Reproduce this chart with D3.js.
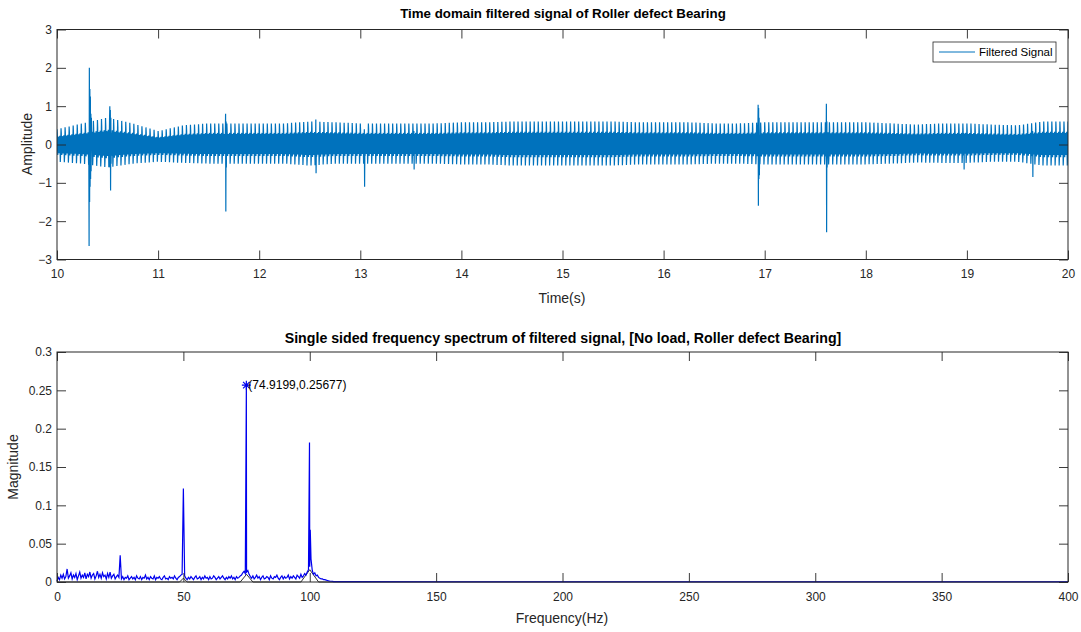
<!DOCTYPE html>
<html>
<head>
<meta charset="utf-8">
<script src="https://cdn.jsdelivr.net/npm/d3@7"></script>
<style>
  html, body { margin: 0; padding: 0; background: #fff; }
  svg { display: block; font-family: "Liberation Sans", Arial, Helvetica, sans-serif; }
</style>
</head>
<body>
<svg id="chart" width="1081" height="632"></svg>
<script>
// ---------------- Time-domain signal ----------------
// Repetition rate of the waveform (Hz) and the shape of one period (normalised, 16 samples)
const cycleRate = 25;
const cycleShape = [1.0, 0.7, -0.2, -0.6, -0.35, 0.45, 0.5, -0.1, -0.5, -0.3, 0.4, 0.55, -0.2, -1.0, -0.7, 0.3];

// Envelope of the filtered signal, every 0.25 s from 10 s to 20 s
const envTime = [10, 10.25, 10.5, 10.75, 11, 11.25, 11.5, 11.75, 12, 12.25, 12.5, 12.75, 13, 13.25, 13.5, 13.75,
  14, 14.25, 14.5, 14.75, 15, 15.25, 15.5, 15.75, 16, 16.25, 16.5, 16.75, 17, 17.25, 17.5, 17.75, 18, 18.25,
  18.5, 18.75, 19, 19.25, 19.5, 19.75, 20];
const envUpper = [0.4, 0.55, 0.7, 0.55, 0.35, 0.5, 0.55, 0.55, 0.55, 0.55, 0.6, 0.58, 0.55, 0.55, 0.55, 0.55,
  0.58, 0.58, 0.6, 0.6, 0.6, 0.6, 0.6, 0.58, 0.58, 0.58, 0.55, 0.55, 0.58, 0.58, 0.58, 0.58, 0.58, 0.55,
  0.52, 0.55, 0.55, 0.52, 0.5, 0.6, 0.6];
const envLower = [-0.45, -0.5, -0.6, -0.5, -0.45, -0.48, -0.5, -0.5, -0.5, -0.5, -0.55, -0.5, -0.5, -0.5, -0.5, -0.5,
  -0.52, -0.52, -0.55, -0.55, -0.55, -0.55, -0.55, -0.52, -0.52, -0.52, -0.5, -0.5, -0.52, -0.52, -0.52, -0.52, -0.52, -0.5,
  -0.47, -0.48, -0.48, -0.45, -0.45, -0.55, -0.55];

// Impacts from the roller defect: start time (s) and successive sample values
const impactTime = [10.318, 10.522, 11.668, 12.56, 13.04, 13.53, 16.935, 17.61, 18.97, 19.65];
const impactValues = [
  [-2.65, 2.0, -1.5, 1.45, -1.1, 1.25, -0.9, 0.8, -0.7, 0.7],
  [1.0, -0.6, 0.9, -1.2, 0.7, -0.5],
  [0.8, -1.75, 0.6, -0.6],
  [0.65, -0.75],
  [0.4, -1.1],
  [0.35, -0.65],
  [1.04, -1.6, 0.95, -0.9, 0.7, -0.8],
  [1.06, -2.29, 0.6, -0.6],
  [0.3, -0.65],
  [0.35, -0.85]
];

const timeTicks = [10, 11, 12, 13, 14, 15, 16, 17, 18, 19, 20];
const ampTicks = [-3, -2, -1, 0, 1, 2, 3];

// ---------------- Frequency spectrum ----------------
// Noise floor, 0 to 110 Hz in 0.5 Hz steps, magnitude in units of 1e-3
const floorStep = 0.5;
const floorMag = [
  1, 6, 3, 9, 5, 10, 4, 7, 17, 5, 8, 12, 4, 9, 6, 11, 3, 8, 13, 5, 9,
  6, 12, 4, 10, 7, 13, 5, 9, 11, 4, 8, 14, 6, 10, 5, 12, 7, 9, 4, 11,
  6, 13, 5, 8, 10, 4, 7, 9, 6,
  8,
  4, 7, 3, 6, 5, 8, 3, 5, 7, 4, 6, 3, 8, 5, 4, 7, 3, 6, 5, 9, 4, 6, 3, 7, 5, 4, 8, 3, 6, 5,
  7, 4, 3, 6, 8, 4, 5, 3, 7, 5, 6, 4, 8, 5, 3, 6, 7, 9, 10,
  10,
  8, 5, 3, 6, 4, 7, 5, 3, 6, 8, 4, 5, 7, 3, 6, 4, 8, 5, 6, 3, 7, 4, 5, 8, 6, 3, 5, 7, 4, 6,
  8, 5, 3, 6, 4, 7, 5, 8, 4, 6, 3, 7, 5, 6, 8, 9, 12, 14, 11,
  13,
  15, 10, 7, 5, 8, 4, 6, 9, 5, 7, 3, 6, 8, 4, 5, 7, 6, 3, 8, 5, 4, 7, 6, 9, 5, 3, 6, 8, 4, 7,
  5, 6, 9, 4, 7, 5, 8, 6, 4, 9, 7, 5, 10, 6, 8, 11, 9, 13, 16,
  20,
  30, 15, 10, 12, 8, 9, 6, 5, 4, 4, 3, 3, 2.5, 2, 1.5, 1.2, 1, 0.8, 0.6, 0.5
];
// Above 110 Hz the spectrum is almost flat
const tailFreq = [115, 150, 200, 250, 300, 350, 400];
const tailMag = [0.0004, 0.0003, 0.0003, 0.0003, 0.0003, 0.0003, 0.0003];

// Harmonic peaks of the 25 Hz fault frequency
const peakFreq = [25, 50, 74.9199, 99.9, 100.2];
const peakMag = [0.035, 0.122, 0.25677, 0.182, 0.068];

// Reference trace near the harmonics
const refFreq = [0, 48.5, 50, 51.5, 72.5, 75, 77.5, 96.5, 100, 103.5, 400];
const refMag = [0, 0, 0.005, 0, 0, 0.01, 0, 0, 0.016, 0, 0];

const freqTicks = [0, 50, 100, 150, 200, 250, 300, 350, 400];
const magTicks = [0, 0.05, 0.1, 0.15, 0.2, 0.25, 0.3];
const markedFreq = 74.9199, markedMag = 0.25677;

// ---------------- Drawing ----------------
const svg = d3.select("#chart");
const axisColor = "#262626";
const tickLen = 9;
const tickFont = 12;

function drawFrame(g, x, y, xTicks, yTicks, xFmt, yFmt) {
  const [xa, xb] = x.range(), [yb, ya] = y.range();
  // bottom/left axes with labels, ticks pointing inwards
  g.append("g").attr("transform", `translate(0,${yb})`)
    .call(d3.axisBottom(x).tickValues(xTicks).tickSize(-tickLen).tickPadding(10).tickFormat(xFmt))
    .call(s => s.select(".domain").remove());
  g.append("g").attr("transform", `translate(${xa},0)`)
    .call(d3.axisLeft(y).tickValues(yTicks).tickSize(-tickLen).tickPadding(5).tickFormat(yFmt))
    .call(s => s.select(".domain").remove());
  // top/right ticks without labels
  g.append("g").attr("transform", `translate(0,${ya})`)
    .call(d3.axisTop(x).tickValues(xTicks).tickSize(-tickLen).tickFormat(""))
    .call(s => s.select(".domain").remove());
  g.append("g").attr("transform", `translate(${xb},0)`)
    .call(d3.axisRight(y).tickValues(yTicks).tickSize(-tickLen).tickFormat(""))
    .call(s => s.select(".domain").remove());
  g.selectAll(".tick line").attr("stroke", axisColor).attr("stroke-width", 0.9);
  g.selectAll(".tick text").attr("font-size", tickFont)
    .attr("font-family", "Liberation Sans, Arial, sans-serif").attr("fill", axisColor);
  g.append("rect").attr("x", xa).attr("y", ya).attr("width", xb - xa).attr("height", yb - ya)
    .attr("fill", "none").attr("stroke", axisColor).attr("stroke-width", 1);
}

// ---- top: time domain ----
const xT = d3.scaleLinear().domain([10, 20]).range([57, 1068]);
const yT = d3.scaleLinear().domain([-3, 3]).range([259.5, 29.5]);
const gTop = svg.append("g");

const upperAt = d3.scaleLinear().domain(envTime).range(envUpper);
const lowerAt = d3.scaleLinear().domain(envTime).range(envLower);
const nCycles = (20 - 10) * cycleRate;
const dt = 1 / (cycleRate * cycleShape.length);
const signal = [];
for (let k = 0; k < nCycles; k++) {
  cycleShape.forEach((s, j) => {
    const t = 10 + (k * cycleShape.length + j) * dt;
    signal.push({ t, v: s >= 0 ? s * upperAt(t) : -s * lowerAt(t) });
  });
}
signal.push({ t: 20, v: cycleShape[0] * upperAt(20) });
impactTime.forEach((t0, i) => {
  const start = Math.round((t0 - 10) / dt);
  impactValues[i].forEach((v, j) => { if (signal[start + j]) signal[start + j].v = v; });
});

gTop.append("clipPath").attr("id", "clipTop").append("rect")
  .attr("x", 57).attr("y", 29.5).attr("width", 1011).attr("height", 230);
gTop.append("path").datum(signal)
  .attr("clip-path", "url(#clipTop)")
  .attr("fill", "none").attr("stroke", "#0072BD").attr("stroke-width", 1.2)
  .attr("d", d3.line().x(d => xT(d.t)).y(d => yT(d.v)));

drawFrame(gTop, xT, yT, timeTicks, ampTicks, d3.format("d"), d3.format("d"));

gTop.append("text").attr("x", 563).attr("y", 18).attr("text-anchor", "middle")
  .attr("font-size", 13.3).attr("font-weight", "bold").attr("fill", "#000")
  .text("Time domain filtered signal of Roller defect Bearing");
gTop.append("text").attr("x", 562).attr("y", 303).attr("text-anchor", "middle")
  .attr("font-size", 14).attr("fill", axisColor).text("Time(s)");
gTop.append("text").attr("transform", "translate(32,144) rotate(-90)").attr("text-anchor", "middle")
  .attr("font-size", 14).attr("fill", axisColor).text("Amplitude");

// legend
const lg = gTop.append("g");
lg.append("rect").attr("x", 933).attr("y", 42).attr("width", 123).attr("height", 20)
  .attr("fill", "#fff").attr("stroke", axisColor).attr("stroke-width", 0.8);
lg.append("line").attr("x1", 939).attr("x2", 975).attr("y1", 52).attr("y2", 52)
  .attr("stroke", "#0072BD").attr("stroke-width", 1);
lg.append("text").attr("x", 979).attr("y", 56).attr("font-size", 11.5).attr("fill", "#000").text("Filtered Signal");

// ---- bottom: spectrum ----
const xF = d3.scaleLinear().domain([0, 400]).range([57, 1068]);
const yF = d3.scaleLinear().domain([0, 0.3]).range([582, 352]);
const gBot = svg.append("g");

let spectrum = floorMag.map((m, i) => ({ f: i * floorStep, m: m / 1000 }))
  .filter(p => !peakFreq.some(pf => Math.abs(pf - p.f) < 0.01));
peakFreq.forEach((f, i) => spectrum.push({ f, m: peakMag[i] }));
tailFreq.forEach((f, i) => spectrum.push({ f, m: tailMag[i] }));
spectrum.sort((a, b) => a.f - b.f);

const refTrace = refFreq.map((f, i) => ({ f, m: refMag[i] }));

gBot.append("path").datum(refTrace)
  .attr("fill", "none").attr("stroke", "#000").attr("stroke-width", 0.8)
  .attr("d", d3.line().x(d => xF(d.f)).y(d => yF(d.m)));
gBot.append("path").datum(spectrum)
  .attr("fill", "none").attr("stroke", "#0000ee").attr("stroke-width", 1.2)
  .attr("d", d3.line().x(d => xF(d.f)).y(d => yF(d.m)));

drawFrame(gBot, xF, yF, freqTicks, magTicks, d3.format("d"), d => d === 0 ? "0" : String(+d.toFixed(2)));

// star marker on the main peak
const mx = xF(markedFreq), my = yF(markedMag);
gBot.append("path")
  .attr("d", `M${mx - 4.5},${my}H${mx + 4.5}M${mx},${my - 4.5}V${my + 4.5}M${mx - 3.3},${my - 3.3}L${mx + 3.3},${my + 3.3}M${mx - 3.3},${my + 3.3}L${mx + 3.3},${my - 3.3}`)
  .attr("stroke", "#0000ee").attr("stroke-width", 1.2).attr("fill", "none");
gBot.append("text").attr("x", mx + 2).attr("y", my + 4).attr("font-size", 12).attr("fill", "#000")
  .text(`(${markedFreq},${markedMag})`);

gBot.append("text").attr("x", 563).attr("y", 343).attr("text-anchor", "middle")
  .attr("font-size", 14.2).attr("font-weight", "bold").attr("fill", "#000")
  .text("Single sided frequency spectrum of filtered signal, [No load, Roller defect Bearing]");
gBot.append("text").attr("x", 562).attr("y", 623).attr("text-anchor", "middle")
  .attr("font-size", 14).attr("fill", axisColor).text("Frequency(Hz)");
gBot.append("text").attr("transform", "translate(18,467) rotate(-90)").attr("text-anchor", "middle")
  .attr("font-size", 14).attr("fill", axisColor).text("Magnitude");
</script>
</body>
</html>
